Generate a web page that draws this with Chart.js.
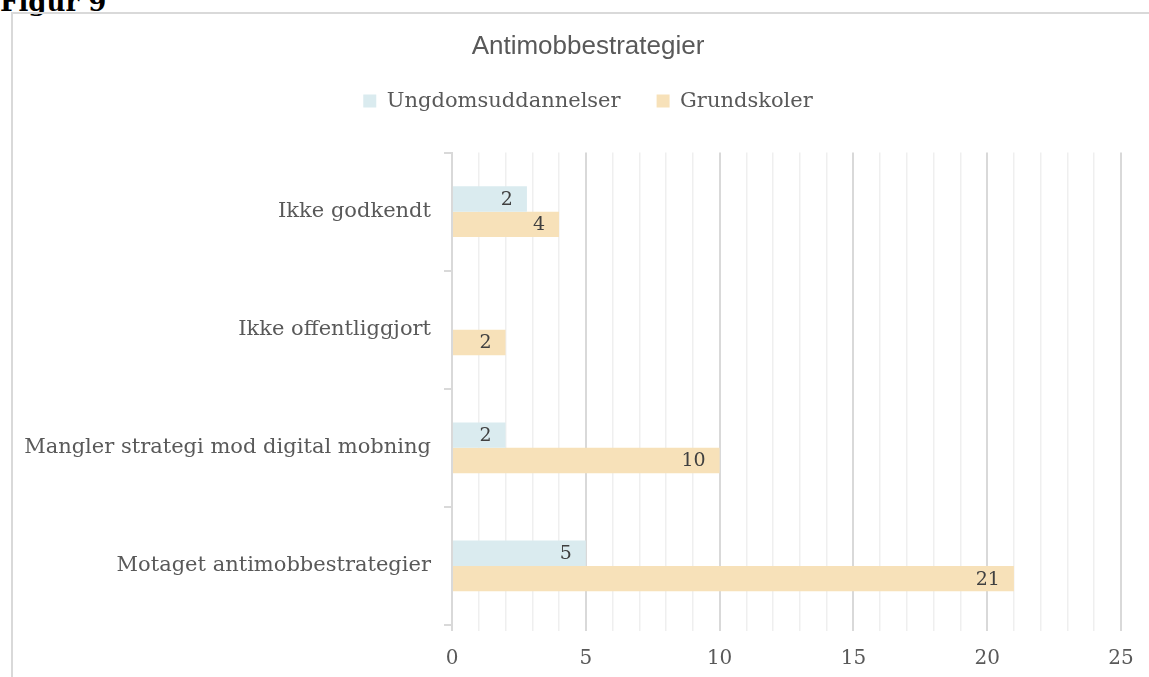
<!DOCTYPE html>
<html>
<head>
<meta charset="utf-8">
<script src="https://cdn.jsdelivr.net/npm/chart.js@4.4.0/dist/chart.umd.min.js"></script>
<style>
  body { margin: 0; width: 1149px; height: 677px; overflow: hidden; background: #fff; position: relative; }
  #figTitle { position: absolute; left: 0; top: -13px; font: bold 26px 'DejaVu Serif', serif; color: #000; }
  #box { position: absolute; left: 11px; top: 12px; width: 1160px; height: 700px; border: 2px solid #d9d9d9; }
  #chart { position: absolute; left: 13px; top: 15px; }
</style>
</head>
<body>
<div id="figTitle">Figur 9</div>
<div id="box"></div>
<canvas id="chart" width="1150" height="662"></canvas>
<script>
// data
const categories = ['Ikke godkendt', 'Ikke offentliggjort', 'Mangler strategi mod digital mobning', 'Motaget antimobbestrategier'];
const ungdomValues = [2.8, 0, 2, 5];
const ungdomLabels = ['2', '', '2', '5'];
const grundValues = [4, 2, 10, 21];
const grundLabels = ['4', '2', '10', '21'];
const xTickLabels = ['0', '5', '10', '15', '20', '25'];

const serif = "'DejaVu Serif', serif";

// draws the value labels inside the end of each bar
const valueLabels = {
    id: 'valueLabels',
    afterDatasetsDraw(chart) {
        const ctx = chart.ctx;
        ctx.save();
        ctx.font = '19px ' + serif;
        ctx.fillStyle = '#404040';
        ctx.textAlign = 'right';
        ctx.textBaseline = 'middle';
        chart.data.datasets.forEach((ds, i) => {
            const meta = chart.getDatasetMeta(i);
            meta.data.forEach((bar, j) => {
                const txt = ds.valueLabels[j];
                if (!txt) return;
                ctx.fillText(txt, bar.x - 14, bar.y + 1);
            });
        });
        ctx.restore();
    }
};

// extra room between the legend and the plot
const legendGap = {
    id: 'legendGap',
    beforeInit(chart) {
        const fit = chart.legend.fit;
        chart.legend.fit = function() {
            fit.call(this);
            this.height += 31;
        };
    }
};

new Chart(document.getElementById('chart').getContext('2d'), {
    type: 'bar',
    data: {
        labels: categories,
        datasets: [{
            label: 'Ungdomsuddannelser',
            data: ungdomValues,
            valueLabels: ungdomLabels,
            backgroundColor: 'rgb(218, 235, 239)',
            categoryPercentage: 0.43,
            barPercentage: 1
        }, {
            label: 'Grundskoler',
            data: grundValues,
            valueLabels: grundLabels,
            backgroundColor: 'rgb(247, 225, 185)',
            categoryPercentage: 0.43,
            barPercentage: 1
        }]
    },
    options: {
        indexAxis: 'y',
        responsive: false,
        animation: false,
        layout: { padding: { left: 42, right: 42, top: 0, bottom: 0 } },
        plugins: {
            title: {
                display: true,
                text: 'Antimobbestrategier',
                color: '#595959',
                font: { family: "'Liberation Sans', Arial, sans-serif", size: 26, weight: 'normal', lineHeight: 0.6 },
                padding: { top: 24, bottom: 0 }
            },
            legend: {
                display: true,
                position: 'top',
                labels: {
                    color: '#595959',
                    font: { family: serif, size: 21 },
                    boxWidth: 13,
                    boxHeight: 13,
                    padding: 36,
                    usePointStyle: true,
                    pointStyle: 'rect'
                }
            },
            tooltip: { enabled: false }
        },
        scales: {
            x: {
                min: 0,
                max: 25,
                border: { display: false },
                grid: {
                    color: c => (c.tick && c.tick.value % 5 === 0) ? '#d9d9d9' : '#efefef',
                    lineWidth: c => (c.tick && c.tick.value % 5 === 0) ? 2 : 1.5,
                    tickLength: 6
                },
                ticks: {
                    stepSize: 1,
                    autoSkip: false,
                    maxRotation: 0,
                    padding: 16,
                    color: '#595959',
                    font: { family: serif, size: 20 },
                    callback: v => xTickLabels.includes(String(v)) ? String(v) : ''
                },
                afterFit: s => { s.height = 52; }
            },
            y: {
                border: { display: true, color: '#d9d9d9', width: 2 },
                grid: {
                    drawOnChartArea: false,
                    drawTicks: true,
                    tickLength: 8,
                    color: '#d9d9d9',
                    lineWidth: 2
                },
                ticks: {
                    color: '#595959',
                    padding: 13,
                    font: { family: serif, size: 21 }
                },
                afterFit: s => {
                    s.width = 397;
                    // long labels reach into the left padding, so don't clip them
                    s._computeLabelArea = () => undefined;
                }
            }
        }
    },
    plugins: [valueLabels, legendGap]
});
</script>
</body>
</html>
